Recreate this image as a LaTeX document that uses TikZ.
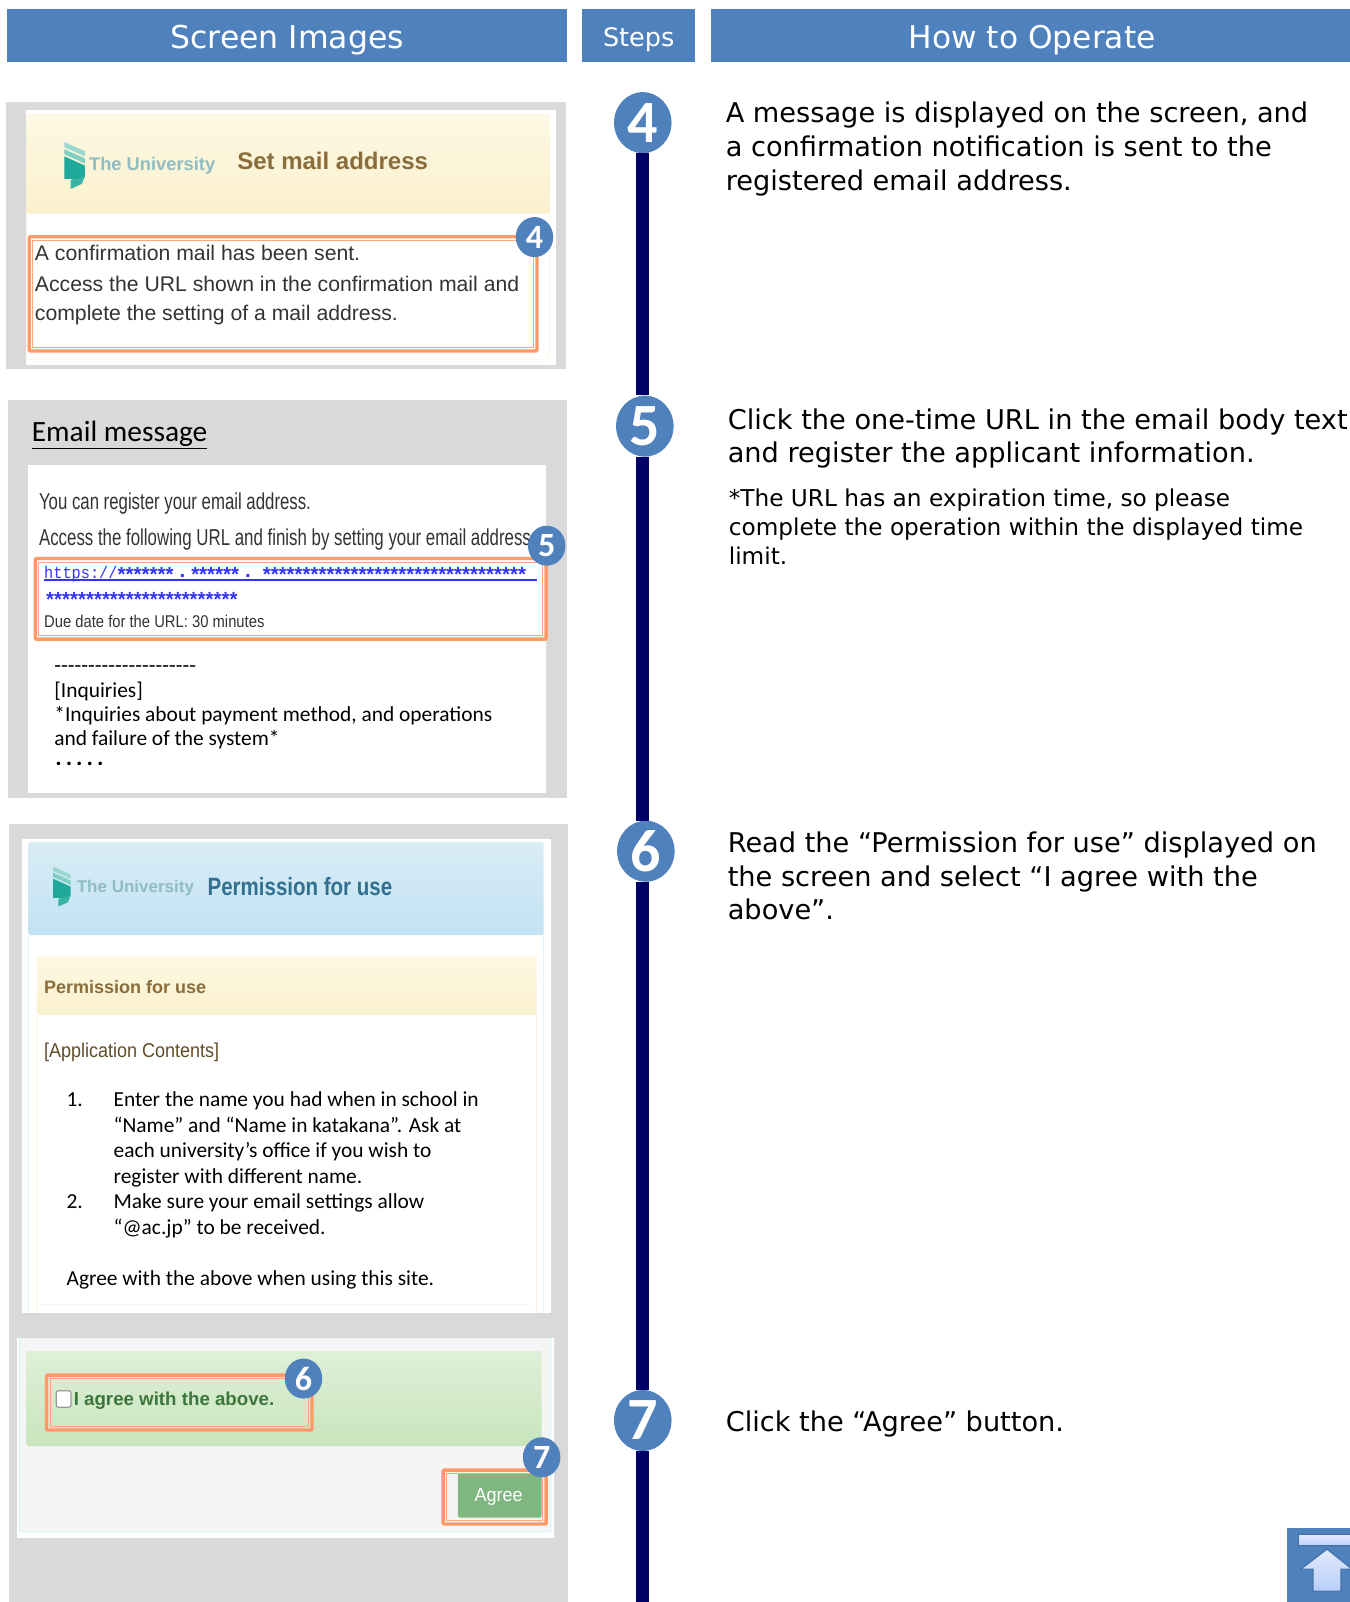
\documentclass[tikz,border=0pt]{standalone}
\usepackage{fontspec}
\usepackage{graphicx}
\usetikzlibrary{shapes.geometric}
\setmainfont{DejaVu Sans}
\newfontfamily\arialf{Liberation Sans}
\newfontfamily\carlitof{Carlito}
\newfontfamily\monof{Liberation Mono}
\definecolor{hblue}{HTML}{4F81BD}
\definecolor{panelgray}{HTML}{D9D9D9}
\definecolor{navyline}{HTML}{000066}
\definecolor{orangeb}{HTML}{FF9966}
\definecolor{brownt}{HTML}{8A6D3B}
\definecolor{linkblue}{HTML}{3333FF}
\definecolor{infot}{HTML}{31708F}
\definecolor{greent}{HTML}{3C763D}
\definecolor{logot}{HTML}{8FBDC2}
\definecolor{teal1}{HTML}{1FA99A}
\definecolor{teal2}{HTML}{9AD8CF}
\newcommand\hs[2]{\scalebox{#1}[1]{#2}}
\newcommand\fs[2]{\fontsize{#1}{#2}\selectfont}
\newcommand\obox[4]{%
  \draw[oouter] (#1+1.6,#2+1.6) rectangle (#3-1.6,#4-1.6);
  \draw[oinner] (#1+5,#2+5) rectangle (#3-5,#4-5);}
\newcommand\unilogo[3]{%
  \begin{scope}[shift={(#1,#2)},scale=#3]
    \fill[teal2] (0,0) -- (20,9) -- (20,14) -- (0,5) -- cycle;
    \fill[teal2!80!teal1] (0,7) -- (20,16) -- (20,21) -- (0,12) -- cycle;
    \fill[teal1] (0,14) -- (20,23) -- (20,34) -- (14,36) -- (0,36) -- cycle;
    \fill[teal1!80!teal2] (6,37) -- (20,34) -- (17,41) -- (6,46) -- cycle;
  \end{scope}}
\tikzset{
  x=1.0219pt,y=-1.0219pt,
  oouter/.style={draw=orangeb,line width=3.3pt,rounded corners=1pt},
  oinner/.style={draw=orangeb!85,line width=0.9pt},
  headbar/.style={fill=hblue},
  headtxt/.style={text=white,inner sep=0pt,anchor=center},
  stepc/.style={ellipse,fill=hblue,text=white,inner sep=0pt,minimum width=57.5pt,minimum height=61pt,font=\carlitof\bfseries\fs{60}{60}},
  badge/.style={ellipse,fill=hblue,text=white,inner sep=0pt,minimum width=37.5pt,minimum height=40pt,font=\carlitof\bfseries\fs{34}{34}},
  body/.style={anchor=base west,inner sep=0pt,align=left,text=black,font=\fs{27.2}{33.7}},
  small/.style={anchor=base west,inner sep=0pt,align=left,text=black,font=\fs{23.2}{28.6}},
  cal/.style={anchor=base west,inner sep=0pt,align=left,text=black,font=\carlitof\fs{21.4}{24.2}},
  calb/.style={anchor=base west,inner sep=0pt,align=left,text=black,font=\carlitof\fs{21.4}{25.6}},
  ar/.style={anchor=base west,inner sep=0pt,text=black!80},
}
\begin{document}
\begin{tikzpicture}
\useasboundingbox (0,0) rectangle (1321.05,1567.65);
\fill[white] (0,0) rectangle (1321.05,1567.65);
% headers
\fill[headbar] (7,9) rectangle (555,61);
\fill[headbar] (570,9) rectangle (680,61);
\fill[headbar] (696,9) rectangle (1321.05,61);
\node[headtxt,font=\fs{31.5}{31.5}] (h1) at (281,39) {Screen Images};
\node[headtxt,font=\fs{25.5}{25.5}] (h2) at (625,39) {Steps};
\node[headtxt,font=\fs{31.3}{31.3}] (h3) at (1010,39) {How to Operate};

% panel 1
\fill[panelgray] (6,100) rectangle (554,361);
\fill[white] (25,108) rectangle (544,357);
\draw[orange!10,line width=0.8pt,rounded corners=3pt] (26,112) rectangle (538,352);
\shade[top color={rgb,255:red,253;green,248;blue,228},bottom color={rgb,255:red,250;green,241;blue,204},rounded corners=2pt] (26,112) rectangle (538,209);
\unilogo{63}{139}{1}
\node[ar,text=logot,font=\arialf\bfseries\fs{18.3}{18.3}] (logo1) at (87,167) {The University};
\node[ar,text=brownt,font=\arialf\bfseries\fs{24}{24}] (title1) at (232,166) {Set mail address};
\obox{27}{230}{527}{345}
\node[ar,font=\arialf\fs{21.2}{21.2}] (a1) at (34,255) {A confirmation mail has been sent.};
\node[ar,font=\arialf\fs{21.2}{21.2}] (a2) at (34,285) {Access the URL shown in the confirmation mail and};
\node[ar,font=\arialf\fs{21.2}{21.2}] (a3) at (34,314) {complete the setting of a mail address.};
\node[badge] (b4) at (523,232) {4};

% panel 2
\fill[panelgray] (8,391) rectangle (555,781);
\fill[white] (27,455) rectangle (534,776);
\node[anchor=base west,inner sep=0pt,font=\carlitof\fs{29.4}{29.4}] (em) at (31,432) {\underline{Email message}};
\node[ar,font=\arialf\fs{23}{23}] (e1) at (38,499) {\hs{0.73}{You can register your email address.}};
\node[ar,font=\arialf\fs{23}{23}] (e2) at (38,534) {\hs{0.733}{Access the following URL and finish by setting your email address.}};
\obox{33}{545}{536}{627}
\node[ar,text=linkblue,font=\monof\fs{17}{17}] (link1) at (43,566) {\hs{0.9}{https://}};
\node[ar,text=linkblue,font=\arialf\bfseries\fs{20.5}{20.5}] (link1b) at (115,569) {*******\hspace{6pt}\raisebox{3.5pt}{.}\hspace{6pt}******\hspace{6pt}\raisebox{3.5pt}{.}\hspace{12pt}*********************************};
\draw[linkblue,line width=1.2pt] (43,567.5) -- (525,567.5);
\node[ar,text=linkblue,font=\arialf\bfseries\fs{20.5}{20.5}] (link2) at (45,593) {************************};
\node[ar,font=\arialf\fs{17}{17}] (due) at (43,614) {\hs{0.87}{Due date for the URL: 30 minutes}};
\node[cal] (inq) at (53,729.5) {\hs{1.03}{---------------------}\\{}[Inquiries]\\*Inquiries about payment method, and operations\\and failure of the system*};
\node[anchor=base west,inner sep=0pt,font=\carlitof\bfseries\fs{24}{24}] (dots) at (54,749) {.\,.\,.\,.\,.};
\node[badge] (b5) at (535,534) {5};

% panel 3
\fill[panelgray] (9,806) rectangle (556,1567.65);
\fill[white] (22,821) rectangle (539,1285);
\draw[cyan!12,line width=0.9pt] (28,915) -- (28,1285) (532,915) -- (532,1285);
\shade[top color={rgb,255:red,217;green,237;blue,247},bottom color={rgb,255:red,194;green,226;blue,243},rounded corners=2pt] (28,824) rectangle (532,915);
\unilogo{52}{848}{0.85}
\node[ar,text=logot,font=\arialf\bfseries\fs{17}{17}] (logo2) at (75,873) {The University};
\node[ar,text=infot,font=\arialf\bfseries\fs{25}{25}] (title2) at (203,876) {\hs{0.82}{Permission for use}};
\draw[orange!12,line width=0.9pt] (36,993) -- (36,1285) (525,993) -- (525,1285);
\shade[top color={rgb,255:red,253;green,248;blue,228},bottom color={rgb,255:red,250;green,241;blue,204},rounded corners=2pt] (36,936) rectangle (525,993);
\node[ar,text=brownt,font=\arialf\bfseries\fs{18}{18}] (perm) at (43,972) {Permission for use};
\node[ar,text=brownt!70!black,font=\arialf\fs{20}{20}] (appc) at (43,1035) {\hs{0.9}{[Application Contents]}};
\node[calb] (n1) at (65,1083) {1.};
\node[calb] (l1) at (111,1158) {Enter the name you had when in school in\\“Name” and “Name in katakana”. Ask at\\each university’s office if you wish to\\register with different name.};
\node[calb] (n2) at (65,1183) {2.};
\node[calb] (l2) at (111,1208) {Make sure your email settings allow\\“@ac.jp” to be received.};
\node[calb] (agt) at (65,1258) {Agree with the above when using this site.};
\draw[black!4,line width=1pt] (40,1277) -- (520,1277);

% bottom screen
\fill[white] (17,1309) rectangle (542,1505);
\fill[black!4,draw=cyan!15,line width=0.9pt,rounded corners=2pt] (19,1305) rectangle (539,1499);
\fill[panelgray] (17,1285) rectangle (542,1309);
\shade[top color={rgb,255:red,223;green,240;blue,216},bottom color={rgb,255:red,200;green,229;blue,188},rounded corners=2pt] (26,1322) rectangle (530,1415);
\obox{44}{1344}{307}{1401}
\fill[white,draw=black!40,line width=1.2pt,rounded corners=2pt] (55,1361) rectangle (69.5,1377);
\node[ar,text=greent,font=\arialf\bfseries\fs{18.7}{18.7}] (agree) at (72,1375) {I agree with the above.};
\node[badge] (b6) at (297,1349) {6};
\fill[rounded corners=1.5pt,fill={rgb,255:red,128;green,183;blue,128}] (448,1442) rectangle (530,1485);
\obox{432}{1437}{536}{1493}
\node[inner sep=0pt,text=white,font=\arialf\fs{19}{19}] (agbtn) at (488,1465) {\hs{0.95}{Agree}};
\node[badge] (b7) at (530,1426) {7};

% step line and circles
\coordinate (lineend) at (629,1567.65);
\node[stepc] (c4) at (629,120) {4};
\node[stepc] (c5) at (631,417) {5};
\node[stepc] (c6) at (632,833) {6};
\node[stepc] (c7) at (629,1390) {7};
\draw[navyline,line width=13.3pt] (c4.south) -- (c5.north -| c4.south);
\draw[navyline,line width=13.3pt] (c5.south -| c4.south) -- (c6.north -| c4.south);
\draw[navyline,line width=13.3pt] (c6.south -| c4.south) -- (c7.north -| c4.south);
\draw[navyline,line width=13.3pt] (c7.south) -- (lineend);

% right text
\node[body] (t4) at (710,186) {A message is displayed on the screen, and\\a confirmation notification is sent to the\\registered email address.};
\node[body] (t5) at (712,453) {Click the one-time URL in the email body text\\and register the applicant information.};
\node[small] (t5s) at (713,552) {*The URL has an expiration time, so please\\complete the operation within the displayed time\\limit.};
\node[body] (t6) at (712,900) {Read the “Permission for use” displayed on\\the screen and select “I agree with the\\above”.};
\node[body] (t7) at (710,1401) {Click the “Agree” button.};

% up icon
\fill[hblue] (1259,1495) rectangle (1321.05,1567.65);
\shadedraw[draw=hblue!85!black,line width=1pt,top color={rgb,255:red,226;green,234;blue,255},bottom color={rgb,255:red,190;green,210;blue,250}] (1271,1502) rectangle (1322,1512);
\shadedraw[draw=hblue!85!black,line width=1pt,top color={rgb,255:red,226;green,234;blue,255},bottom color={rgb,255:red,184;green,206;blue,250}] (1298.6,1516) -- (1323,1535.5) -- (1312,1535.5) -- (1312,1557) -- (1285,1557) -- (1285,1535.5) -- (1273,1535.5) -- cycle;
\end{tikzpicture}
\end{document}
